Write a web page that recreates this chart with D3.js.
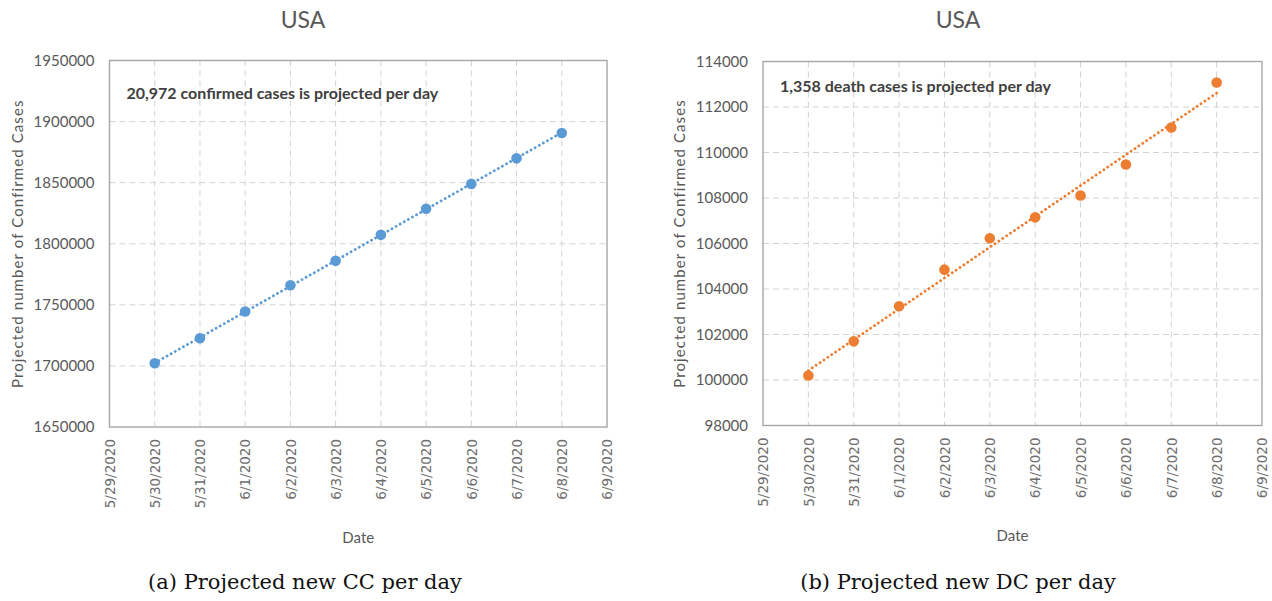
<!DOCTYPE html>
<html>
<head>
<meta charset="utf-8">
<script src="https://cdn.jsdelivr.net/npm/d3@7/dist/d3.min.js"></script>
<style>
  html, body { margin: 0; padding: 0; background: #fff; }
  svg { display: block; }
</style>
</head>
<body>
<svg id="chart" width="1272" height="601"></svg>
<script>
// Axis categories (every day shown on the horizontal axis)
const dateLabels = ["5/29/2020", "5/30/2020", "5/31/2020", "6/1/2020", "6/2/2020", "6/3/2020",
                    "6/4/2020", "6/5/2020", "6/6/2020", "6/7/2020", "6/8/2020", "6/9/2020"];
// Days that carry a projection
const projDates = ["5/30/2020", "5/31/2020", "6/1/2020", "6/2/2020", "6/3/2020",
                   "6/4/2020", "6/5/2020", "6/6/2020", "6/7/2020", "6/8/2020"];
// Projected cumulative confirmed cases (USA)
const confirmedCases = [1702200, 1722600, 1744600, 1766000, 1786000,
                        1807300, 1828700, 1849000, 1869900, 1890600];
// Projected cumulative death cases (USA)
const deathCases = [100200, 101700, 103240, 104850, 106230,
                    107150, 108110, 109470, 111100, 113080];
// Value-axis ticks
const ccTicks = [1650000, 1700000, 1750000, 1800000, 1850000, 1900000, 1950000];
const dcTicks = [98000, 100000, 102000, 104000, 106000, 108000, 110000, 112000, 114000];

const svg = d3.select("#chart");
const uiFont = "Lato, 'Open Sans', sans-serif";

function panel(opts) {
  const g = svg.append("g");
  const { left, right, top, bottom } = opts.box;

  const x = d3.scalePoint().domain(dateLabels).range([left, right]);
  const y = d3.scaleLinear().domain([opts.ticks[0], opts.ticks[opts.ticks.length - 1]]).range([bottom, top]);

  // dashed grid
  g.append("g").selectAll("line.h").data(opts.ticks.slice(1, -1)).join("line")
    .attr("x1", left).attr("x2", right)
    .attr("y1", d => y(d)).attr("y2", d => y(d))
    .attr("stroke", "#d3d3d3").attr("stroke-width", 1).attr("stroke-dasharray", "6 4");
  g.append("g").selectAll("line.v").data(dateLabels.slice(1, -1)).join("line")
    .attr("x1", d => x(d)).attr("x2", d => x(d))
    .attr("y1", top).attr("y2", bottom)
    .attr("stroke", "#d3d3d3").attr("stroke-width", 1).attr("stroke-dasharray", "6 4");

  // frame
  g.append("rect").attr("x", left).attr("y", top)
    .attr("width", right - left).attr("height", bottom - top)
    .attr("fill", "none").attr("stroke", "#a6a6a6").attr("stroke-width", 1.4);

  // value axis
  const yAxis = g.append("g").attr("transform", `translate(${left},0)`)
    .call(d3.axisLeft(y).tickValues(opts.ticks).tickFormat(d3.format("d")).tickSize(0).tickPadding(opts.yPad));
  yAxis.select(".domain").remove();
  yAxis.selectAll("text").attr("font-family", uiFont).attr("font-size", 15).attr("fill", "#595959");

  // date axis, labels rotated to read upward
  const xAxis = g.append("g").attr("transform", `translate(0,${bottom})`)
    .call(d3.axisBottom(x).tickSize(0));
  xAxis.select(".domain").remove();
  xAxis.selectAll("text")
    .attr("font-family", "'DejaVu Sans', sans-serif").attr("font-size", 13.5).attr("fill", "#6d6d6d")
    .attr("transform", "rotate(-90)")
    .attr("text-anchor", "end").attr("x", -12).attr("y", 0).attr("dy", "0.35em");

  // axis titles
  g.append("text")
    .attr("transform", `translate(${opts.yTitleX},${(top + bottom) / 2}) rotate(-90)`)
    .attr("text-anchor", "middle").attr("dy", "0.35em")
    .attr("font-family", uiFont).attr("font-size", 15).attr("letter-spacing", 1.1)
    .attr("fill", "#595959").text("Projected number of Confirmed Cases");
  g.append("text")
    .attr("x", (left + right) / 2).attr("y", opts.dateY)
    .attr("text-anchor", "middle")
    .attr("font-family", uiFont).attr("font-size", 15).attr("fill", "#595959").text("Date");

  // chart title
  g.append("text")
    .attr("x", opts.titleX).attr("y", 28).attr("text-anchor", "middle")
    .attr("font-family", uiFont).attr("font-size", 23).attr("fill", "#595959").text("USA");

  // least-squares trend over the projected days
  const idx = projDates.map(d => dateLabels.indexOf(d));
  const n = idx.length;
  const mx = d3.mean(idx), my = d3.mean(opts.values);
  const slope = d3.sum(idx, (xi, i) => (xi - mx) * (opts.values[i] - my)) / d3.sum(idx, xi => (xi - mx) ** 2);
  const icpt = my - slope * mx;
  const fit = idx.map(xi => [x(dateLabels[xi]), y(icpt + slope * xi)]);
  g.append("path").attr("d", d3.line()([fit[0], fit[n - 1]]))
    .attr("fill", "none").attr("stroke", opts.color).attr("stroke-width", 2.8)
    .attr("stroke-linecap", "round").attr("stroke-dasharray", "0.1 4.6");

  // projected points
  g.append("g").selectAll("circle").data(opts.values).join("circle")
    .attr("cx", (d, i) => x(projDates[i])).attr("cy", d => y(d))
    .attr("r", 5.3).attr("fill", opts.color);

  // note
  g.append("text")
    .attr("x", left + 17).attr("y", opts.noteY)
    .attr("font-family", uiFont).attr("font-size", 16).attr("font-weight", "bold")
    .attr("fill", "#404040").text(opts.note);

  // caption below the panel
  svg.append("text")
    .attr("x", opts.captionX).attr("y", 589).attr("text-anchor", "middle")
    .attr("font-family", "'DejaVu Serif', 'Liberation Serif', serif").attr("font-size", 21)
    .attr("fill", "#111").text(opts.caption);
}

panel({
  box: { left: 109.5, right: 607, top: 60.5, bottom: 427 },
  ticks: ccTicks, values: confirmedCases, color: "#5b9bd5",
  yPad: 15, yTitleX: 18, dateY: 543, titleX: 303, noteY: 99,
  note: "20,972 confirmed cases is projected per day",
  caption: "(a) Projected new CC per day", captionX: 305
});

panel({
  box: { left: 763, right: 1262, top: 61.5, bottom: 425.5 },
  ticks: dcTicks, values: deathCases, color: "#ed7d31",
  yPad: 15, yTitleX: 680, dateY: 541, titleX: 958, noteY: 92,
  note: "1,358 death cases is projected per day",
  caption: "(b) Projected new DC per day", captionX: 958
});
</script>
</body>
</html>
